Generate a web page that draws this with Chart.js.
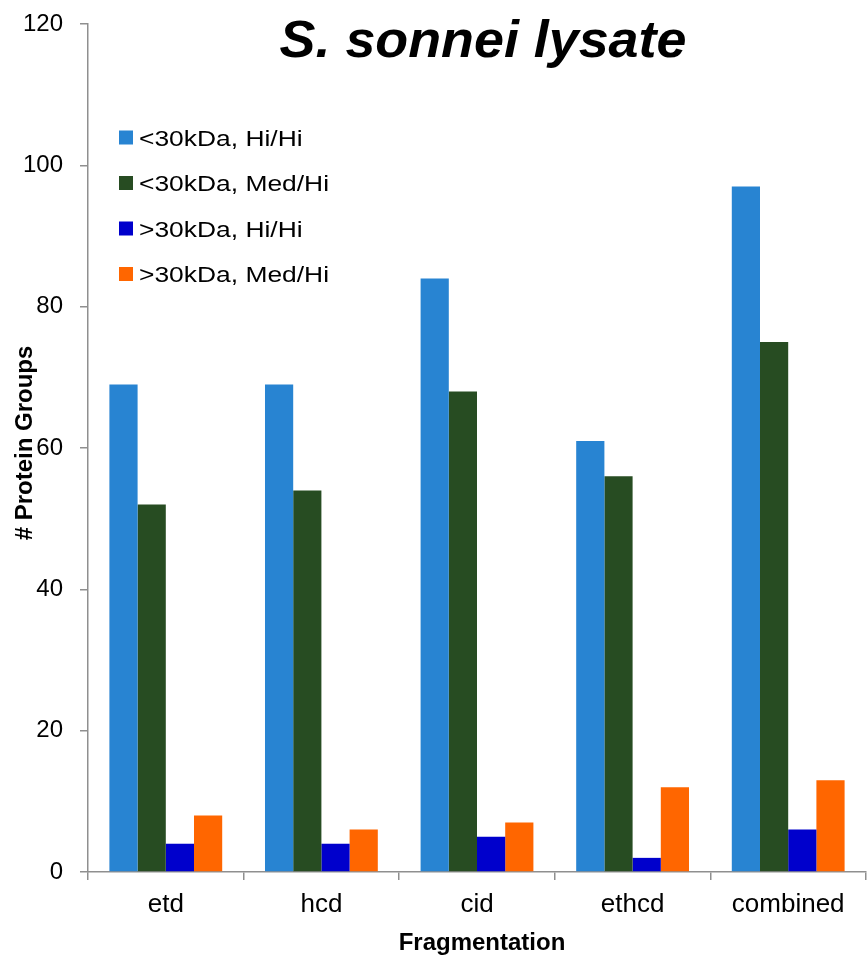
<!DOCTYPE html>
<html>
<head>
<meta charset="utf-8">
<title>S. sonnei lysate</title>
<script src="https://cdn.jsdelivr.net/npm/chart.js@4/dist/chart.umd.min.js"></script>
<style>
  html, body { margin: 0; padding: 0; background: #ffffff; }
  #wrap { width: 867px; height: 956px; position: relative; }
</style>
</head>
<body>
<div id="wrap"><canvas id="chart" width="867" height="956"></canvas></div>
<script>
// Fragmentation methods on the x axis
const categories = ['etd', 'hcd', 'cid', 'ethcd', 'combined'];

// Protein group counts per series
const seriesNames = ['<30kDa, Hi/Hi', '<30kDa, Med/Hi', '>30kDa, Hi/Hi', '>30kDa, Med/Hi'];
const small_HiHi  = [69, 69, 84, 61, 97];
const small_MedHi = [52, 54, 68, 56, 75];
const large_HiHi  = [4, 4, 5, 2, 6];
const large_MedHi = [8, 6, 7, 12, 13];

const yTicks = [0, 20, 40, 60, 80, 100, 120];

const chartTitle = 'S. sonnei lysate';
const xTitle = 'Fragmentation';
const yTitle = '# Protein Groups';

const colors = ['#2884d2', '#274c22', '#0000cc', '#ff6600'];
const FONT = '"Liberation Sans", Arial, Helvetica, sans-serif';
const AXIS_GREY = '#8f8f8f';

const seriesValues = [small_HiHi, small_MedHi, large_HiHi, large_MedHi];

// Title, axis titles and the in-plot legend
const annotations = {
  id: 'annotations',
  afterDraw(chart) {
    const ctx = chart.ctx;
    const area = chart.chartArea;
    ctx.save();
    ctx.fillStyle = '#000000';

    // chart title (slightly widened lettering)
    ctx.save();
    ctx.font = 'italic bold 52px ' + FONT;
    ctx.textAlign = 'center';
    ctx.textBaseline = 'alphabetic';
    ctx.translate(483, 57);
    ctx.scale(1.035, 1);
    ctx.fillText(chartTitle, 0, 0);
    ctx.restore();

    // x axis title
    ctx.font = 'bold 24px ' + FONT;
    ctx.textAlign = 'center';
    ctx.textBaseline = 'alphabetic';
    ctx.fillText(xTitle, (area.left + area.right) / 2 + 5, 950);

    // y axis title
    ctx.save();
    ctx.translate(32, 443);
    ctx.rotate(-Math.PI / 2);
    ctx.fillText(yTitle, 0, 0);
    ctx.restore();

    // legend
    chart.data.datasets.forEach((ds, i) => {
      const cy = 137.5 + i * 45.5;
      ctx.fillStyle = ds.backgroundColor;
      ctx.fillRect(119, cy - 7, 14, 14);
      ctx.save();
      ctx.fillStyle = '#000000';
      ctx.font = '22px ' + FONT;
      ctx.textAlign = 'left';
      ctx.textBaseline = 'alphabetic';
      ctx.translate(139, cy + 8);
      ctx.scale(1.2, 1);
      ctx.fillText(ds.label, 0, 0);
      ctx.restore();
    });
    ctx.restore();
  }
};

new Chart(document.getElementById('chart'), {
  type: 'bar',
  data: {
    labels: categories,
    datasets: seriesNames.map((name, i) => ({
      label: name,
      data: seriesValues[i],
      backgroundColor: colors[i],
      borderWidth: 0,
      categoryPercentage: 0.725,
      barPercentage: 1.0
    }))
  },
  options: {
    responsive: false,
    animation: false,
    devicePixelRatio: 1,
    layout: { padding: { top: 24, right: 1, left: 0, bottom: 0 } },
    plugins: {
      legend: { display: false },
      title: { display: false },
      tooltip: { enabled: false }
    },
    scales: {
      x: {
        offset: true,
        afterFit(scale) { scale.height = 84; },
        border: { display: true, color: AXIS_GREY, width: 1.5 },
        grid: {
          offset: true,
          drawOnChartArea: false,
          drawTicks: true,
          tickLength: 8,
          color: AXIS_GREY,
          lineWidth: 1.5
        },
        ticks: {
          color: '#000000',
          font: { family: FONT, size: 26 },
          padding: 9,
          maxRotation: 0
        }
      },
      y: {
        min: 0,
        max: 120,
        afterFit(scale) {
          scale.width = 88;
          scale.paddingTop = 0;
          scale.paddingBottom = 0;
        },
        afterBuildTicks(scale) { scale.ticks = yTicks.map(v => ({ value: v })); },
        border: { display: true, color: AXIS_GREY, width: 1.5 },
        grid: {
          drawOnChartArea: false,
          drawTicks: true,
          tickLength: 8,
          color: AXIS_GREY,
          lineWidth: 1.5
        },
        ticks: {
          color: '#000000',
          font: { family: FONT, size: 24 },
          padding: 17
        }
      }
    }
  },
  plugins: [annotations]
});
</script>
</body>
</html>
